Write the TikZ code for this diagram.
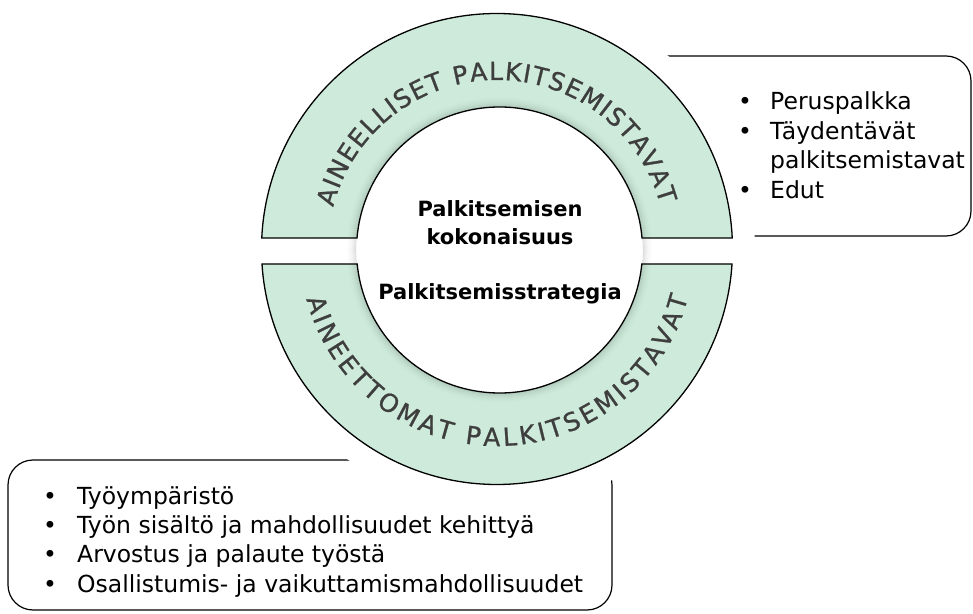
\documentclass[tikz,border=0pt]{standalone}
\usepackage{fontspec}
\setmainfont{DejaVu Sans}
\newfontfamily\ringface[FakeBold=0.9]{DejaVu Sans}
\usetikzlibrary{decorations.text}
\definecolor{ringgreen}{RGB}{205,234,218}
\definecolor{ringtext}{RGB}{62,62,62}
% upper and lower halves of the ring (annular segments)
\def\upperhalfpath{([shift={(497,364)}]177.32:235.5) arc[start angle=177.32,end angle=2.68,radius=235.5] -- ([shift={(499.5,363)}]4.81:143) arc[start angle=4.81,end angle=175.19,radius=143] -- cycle}
\def\lowerhalfpath{([shift={(497,364)}]183.65:235.5) arc[start angle=183.65,end angle=356.35,radius=235.5] -- ([shift={(499.5,363)}]-5.62:143) arc[start angle=-5.62,end angle=-174.38,radius=143] -- cycle}
\begin{document}
\begin{tikzpicture}[x=1pt,y=1pt,
  panel/.style={draw=black, line width=1.2pt, rounded corners=25pt},
  ringedge/.style={draw=black, line width=1.3pt},
  listtext/.style={anchor=base west, inner sep=0pt, font=\fontsize{23.5}{28}\selectfont},
  bulletmark/.style={anchor=base, inner sep=0pt, font=\fontsize{23.5}{28}\selectfont},
  centertext/.style={anchor=base, inner sep=0pt, font=\bfseries\fontsize{21}{25}\selectfont},
  ringfont/.style={font=\ringface\fontsize{25}{25}\selectfont}
]
\fill[white] (0,0) rectangle (973,613);
\useasboundingbox (0,0) rectangle (973,613);

\coordinate (O) at (497,364);
\coordinate (C) at (499.5,363);

% framed lists behind the ring
\draw[panel] (640,377) rectangle (971,557);
\draw[panel] (8,3) rectangle (612,153);

% white margin around the ring
\fill[white] (O) circle[radius=258];

% ring halves
\fill[ringgreen] \upperhalfpath;
\fill[ringgreen] \lowerhalfpath;

% soft shadow around the inner disc
\foreach \d/\o in {0.8/0.12,1.8/0.095,2.8/0.075,3.8/0.058,4.8/0.044,5.8/0.032,6.8/0.022,7.8/0.014,8.8/0.008,9.8/0.004}
  \draw[black, opacity=\o, line width=1pt] (C) circle[radius=143+\d];

\draw[ringedge] \upperhalfpath;
\draw[ringedge] \lowerhalfpath;

% curved ring labels
\path[ringfont, decorate, decoration={text along path, text align=fit to path, text color=ringtext,
  text={|\ringface\fontsize{25}{25}\selectfont|AINEELLISET PALKITSEMISTAVAT}}]
  ([shift={(O)}]165.7:169) arc[start angle=165.7,end angle=15.3,radius=169];
\path[ringfont, decorate, decoration={text along path, text align=fit to path, text color=ringtext,
  text={|\ringface\fontsize{25}{25}\selectfont|AINEETTOMAT PALKITSEMISTAVAT}}]
  ([shift={(O)}]194.7:197) arc[start angle=194.7,end angle=345.8,radius=197];

% centre
\node[centertext] (c1) at (500,396) {Palkitsemisen};
\node[centertext] (c2) at (500,368) {kokonaisuus};
\node[centertext] (c3) at (500,313.5) {Palkitsemisstrategia};

% material rewards
\node[bulletmark] (rb1) at (745,503) {•};
\node[listtext] (rt1) at (770,503) {Peruspalkka};
\node[bulletmark] (rb2) at (745,473) {•};
\node[listtext] (rt2) at (770,473) {Täydentävät};
\node[listtext] (rt3) at (770,444) {palkitsemistavat};
\node[bulletmark] (rb4) at (745,414) {•};
\node[listtext] (rt4) at (770,414) {Edut};

% immaterial rewards
\node[bulletmark] (lb1) at (50,109) {•};
\node[listtext] (lt1) at (77,109) {Työympäristö};
\node[bulletmark] (lb2) at (50,80) {•};
\node[listtext] (lt2) at (77,80) {Työn sisältö ja mahdollisuudet kehittyä};
\node[bulletmark] (lb3) at (50,51) {•};
\node[listtext] (lt3) at (77,51) {Arvostus ja palaute työstä};
\node[bulletmark] (lb4) at (50,21) {•};
\node[listtext] (lt4) at (77,21) {Osallistumis- ja vaikuttamismahdollisuudet};
\end{tikzpicture}
\end{document}
